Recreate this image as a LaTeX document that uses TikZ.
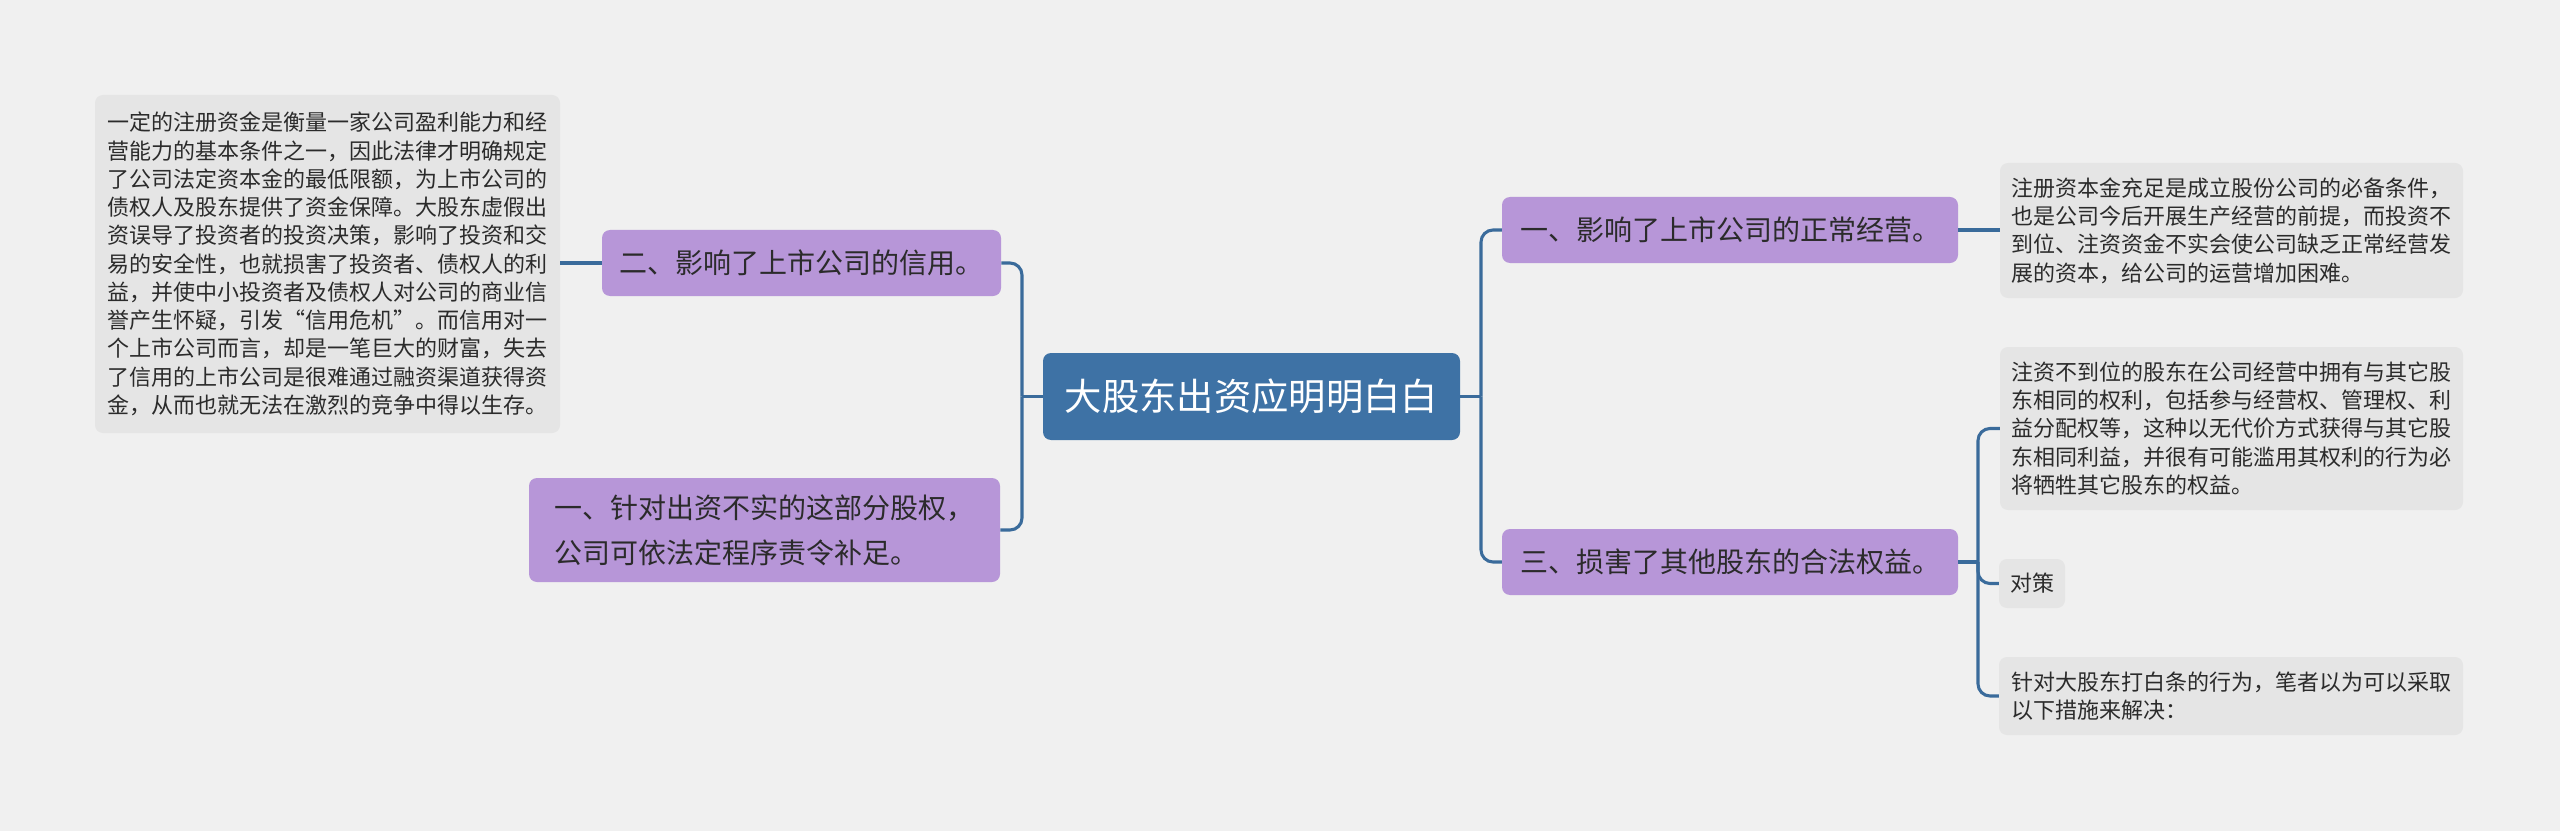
\documentclass[tikz,border=0pt]{standalone}
\usepackage{fontspec}
\setmainfont{Noto Sans CJK SC}
\begin{document}
\begin{tikzpicture}[x=0.75pt,y=-0.75pt,
  conn/.style={draw=linkblue,line width=2.3pt,rounded corners=9pt},
  rootbox/.style={draw=none,fill=rootblue,rounded corners=6pt,text=white,
    font=\fontsize{28}{34}\selectfont,inner sep=0pt,align=center},
  topicbox/.style={draw=none,fill=lilac,rounded corners=6pt,text=txtdark,
    font=\fontsize{21}{33.75}\selectfont,inner sep=0pt,align=left},
  notebox/.style={draw=none,fill=notegray,rounded corners=6pt,text=txtdark,
    font=\fontsize{16.5}{21.2}\selectfont,inner sep=0pt,align=left}]
\definecolor{bggray}{HTML}{F0F0F0}
\definecolor{notegray}{HTML}{E5E5E5}
\definecolor{lilac}{HTML}{B796D8}
\definecolor{rootblue}{HTML}{3E72A5}
\definecolor{linkblue}{HTML}{3A6B9B}
\definecolor{txtdark}{HTML}{2B2B2B}
\fill[bggray] (0,0) rectangle (2560,831);
\useasboundingbox (0,0) rectangle (2560,831);

% root
\node[rootbox,minimum width=312.75pt,minimum height=65.25pt] (root) at (1251.5,396.5) {大股东出资应明明白白};

% left side
\node[topicbox,minimum width=299.25pt,minimum height=49.5pt] (er) at (801.5,263) {二、影响了上市公司的信用。};
\node[notebox,minimum width=348.75pt,minimum height=253.5pt] (lt) at (327.5,264) {一定的注册资金是衡量一家公司盈利能力和经\\营能力的基本条件之一，因此法律才明确规定\\了公司法定资本金的最低限额，为上市公司的\\债权人及股东提供了资金保障。大股东虚假出\\资误导了投资者的投资决策，影响了投资和交\\易的安全性，也就损害了投资者、债权人的利\\益，并使中小投资者及债权人对公司的商业信\\誉产生怀疑，引发“信用危机”。而信用对一\\个上市公司而言，却是一笔巨大的财富，失去\\了信用的上市公司是很难通过融资渠道获得资\\金，从而也就无法在激烈的竞争中得以生存。};
\node[topicbox,minimum width=353.25pt,minimum height=78pt] (yil) at (764.5,530) {一、针对出资不实的这部分股权，\\公司可依法定程序责令补足。};

% right side
\node[topicbox,minimum width=342pt,minimum height=49.5pt] (yir) at (1730,230) {一、影响了上市公司的正常经营。};
\node[notebox,minimum width=347.25pt,minimum height=101.25pt] (rt1) at (2231.5,230.5) {注册资本金充足是成立股份公司的必备条件，\\也是公司今后开展生产经营的前提，而投资不\\到位、注资资金不实会使公司缺乏正常经营发\\展的资本，给公司的运营增加困难。};
\node[topicbox,minimum width=342pt,minimum height=49.5pt] (san) at (1730,562) {三、损害了其他股东的合法权益。};
\node[notebox,minimum width=347.25pt,minimum height=122.25pt] (rt2) at (2231.5,428.5) {注资不到位的股东在公司经营中拥有与其它股\\东相同的权利，包括参与经营权、管理权、利\\益分配权等，这种以无代价方式获得与其它股\\东相同利益，并很有可能滥用其权利的行为必\\将牺牲其它股东的权益。};
\node[notebox,minimum width=49.5pt,minimum height=36.75pt,align=center] (duice) at (2032,583.5) {对策};
\node[notebox,minimum width=348pt,minimum height=58.5pt] (rt3) at (2231,696) {针对大股东打白条的行为，笔者以为可以采取\\以下措施来解决：};

% junctions
\coordinate (lj) at (1022,396.5);
\coordinate (rj) at (1481,396.5);
\coordinate (sj) at (1978,562);

% connectors
\draw[conn] (root.west) -- (lj);
\draw[conn] (er.east) -| (lj);
\draw[conn] (yil.east) -| (lj);
\draw[conn] (er.west) -- (lt.east |- er.west);
\draw[conn] (root.east) -- (rj);
\draw[conn] (rj) |- (yir.west);
\draw[conn] (rj) |- (san.west);
\draw[conn] (yir.east) -- (rt1.west |- yir.east);
\draw[conn] (san.east) -- (sj);
\draw[conn] (sj) |- (rt2.west);
\draw[conn] (sj) |- (duice.west);
\draw[conn] (sj) |- (rt3.west);
\end{tikzpicture}
\end{document}
